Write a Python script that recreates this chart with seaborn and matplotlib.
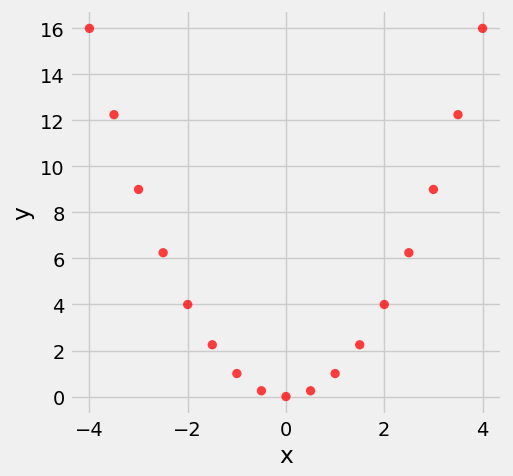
import matplotlib
matplotlib.use('Agg')
import matplotlib.pyplot as plt
import seaborn as sns
import pandas as pd

# values
x_vals = [-4.0, -3.5, -3.0, -2.5, -2.0, -1.5, -1.0, -0.5, 0.0, 0.5, 1.0, 1.5, 2.0, 2.5, 3.0, 3.5, 4.0]
y_vals = [16.0, 12.25, 9.0, 6.25, 4.0, 2.25, 1.0, 0.25, 0.0, 0.25, 1.0, 2.25, 4.0, 6.25, 9.0, 12.25, 16.0]

df = pd.DataFrame({'x': x_vals, 'y': y_vals})

plt.style.use('fivethirtyeight')
fig, ax = plt.subplots(figsize=(5.13, 4.77), dpi=100)
fig.patch.set_facecolor('#f0f0f0')

sns.scatterplot(data=df, x='x', y='y', color='red', alpha=0.75, s=45,
                edgecolor='none', ax=ax)
ax.set_xlabel('x')
ax.set_ylabel('y')
ax.set_xticks([-4, -2, 0, 2, 4])
ax.set_yticks(range(0, 17, 2))

fig.subplots_adjust(left=0.136, right=0.979, bottom=0.128, top=0.977)
fig.savefig('out.png', dpi=100, facecolor=fig.get_facecolor())
